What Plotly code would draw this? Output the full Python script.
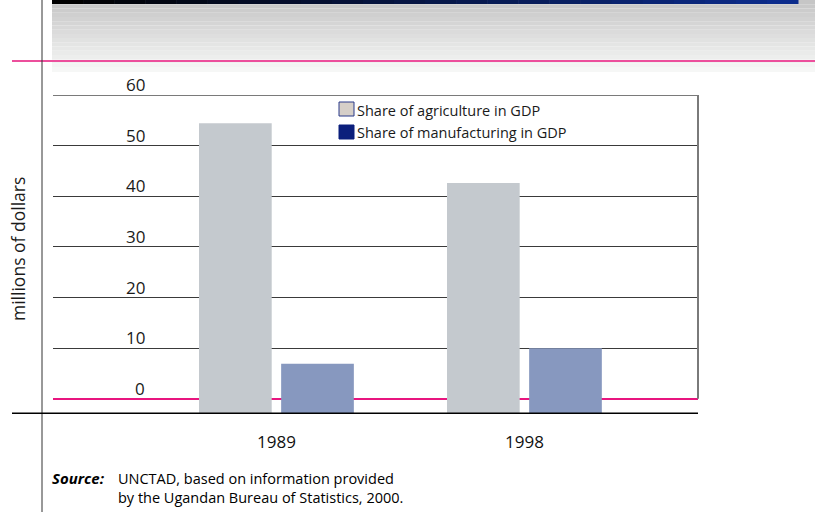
import plotly.graph_objects as go

# ---------------- data ----------------
YEARS = ["1989", "1998"]
SERIES = ["Share of agriculture in GDP", "Share of manufacturing in GDP"]
AGRICULTURE = [54.4, 42.6]
MANUFACTURING = [6.9, 10.0]
Y_TICKS = [0, 10, 20, 30, 40, 50, 60]
Y_TITLE = "millions of dollars"
SOURCE_LABEL = "Source:"
SOURCE_LINES = ["UNCTAD, based on information provided",
                "by the Ugandan Bureau of Statistics, 2000."]

# ---------------- layout constants ----------------
W, H = 815, 512
ML, MR, MT, MB = 53, 117, 95, 98
BASE = -3          # bars sit on the heavy baseline slightly below zero
FONT = "Open Sans"
PW = W - ML - MR
PH = H - MT - MB


def px2x(px):
    return (px - ML) / PW


def py2y(py):
    return (H - MB - py) / PH


def lerp(c1, c2, t):
    return "#%02x%02x%02x" % tuple(int(round(a + (b - a) * t)) for a, b in zip(c1, c2))


fig = go.Figure()

fig.add_trace(go.Bar(
    name=SERIES[0], x=YEARS, y=[v - BASE for v in AGRICULTURE], base=BASE,
    customdata=AGRICULTURE, hovertemplate="%{x}: %{customdata}<extra></extra>",
    marker=dict(color="#c4c9ce", line=dict(width=0)), showlegend=False))
fig.add_trace(go.Bar(
    name=SERIES[1], x=YEARS, y=[v - BASE for v in MANUFACTURING], base=BASE,
    customdata=MANUFACTURING, hovertemplate="%{x}: %{customdata}<extra></extra>",
    marker=dict(color="#8798bf", line=dict(width=0)), showlegend=False))

shapes = []
# header gray gradient band
n = 17
top, bot = 0, 72
for i in range(n):
    y0 = top + (bot - top) * i / n
    y1 = top + (bot - top) * (i + 1) / n
    col = lerp((198, 198, 198), (246, 247, 246), i / (n - 1))
    shapes.append(dict(type="rect", xref="paper", yref="paper", layer="below",
                       x0=px2x(52), x1=px2x(815), y0=py2y(y1), y1=py2y(y0),
                       fillcolor=col, line=dict(width=0)))
# dark top band gradient
m = 24
for i in range(m):
    x0 = 52 + (798 - 52) * i / m
    x1 = 52 + (798 - 52) * (i + 1) / m + 0.5
    col = lerp((0, 0, 0), (12, 44, 140), i / (m - 1))
    shapes.append(dict(type="rect", xref="paper", yref="paper", layer="below",
                       x0=px2x(x0), x1=px2x(x1), y0=py2y(4), y1=py2y(0),
                       fillcolor=col, line=dict(width=0)))
# pink header rule
shapes.append(dict(type="line", xref="paper", yref="paper",
                   x0=px2x(12), x1=px2x(815), y0=py2y(61), y1=py2y(61),
                   line=dict(color="#ec4f9c", width=2)))
# left vertical rule
shapes.append(dict(type="line", xref="paper", yref="paper",
                   x0=px2x(42), x1=px2x(42), y0=py2y(0), y1=py2y(512),
                   line=dict(color="#333333", width=1)))
# top border (60) and right border
shapes.append(dict(type="line", xref="paper", yref="y",
                   x0=0, x1=1, y0=Y_TICKS[-1], y1=Y_TICKS[-1],
                   line=dict(color="#7a7a7a", width=2)))
shapes.append(dict(type="line", xref="paper", yref="y",
                   x0=1, x1=1, y0=0, y1=Y_TICKS[-1],
                   line=dict(color="#7a7a7a", width=2)))
# heavy baseline
shapes.append(dict(type="line", xref="paper", yref="y",
                   x0=px2x(12), x1=1, y0=BASE, y1=BASE,
                   line=dict(color="#000000", width=3)))

# legend swatches
sw = [((339, 102, 354, 116), "#d6cfc8", "#2a3a8a"),
      ((339, 125, 354, 139), "#0b1f7c", "#0b1f7c")]
for (x0, y0, x1, y1), fc, lc in sw:
    shapes.append(dict(type="rect", xref="paper", yref="paper",
                       x0=px2x(x0), x1=px2x(x1), y0=py2y(y1), y1=py2y(y0),
                       fillcolor=fc, line=dict(color=lc, width=1)))

annotations = []
# y tick labels above gridlines
for t in Y_TICKS:
    annotations.append(dict(text=str(t), xref="paper", yref="y", x=px2x(147), y=t,
                            xanchor="right", yanchor="bottom", yshift=-3, showarrow=False,
                            font=dict(family=FONT, size=17, color="#1a1a1a")))
# legend text
for name, cy in zip(SERIES, [110, 132]):
    annotations.append(dict(text=name, xref="paper", yref="paper", x=px2x(355), y=py2y(cy),
                            xanchor="left", yanchor="middle", showarrow=False,
                            font=dict(family=FONT, size=14.5, color="#1a1a1a")))
# y title
annotations.append(dict(text=Y_TITLE, xref="paper", yref="paper", x=px2x(18), y=py2y(249),
                        xanchor="center", yanchor="middle", textangle=-90, showarrow=False,
                        font=dict(family=FONT, size=17.5, color="#1a1a1a")))
# source
annotations.append(dict(text="<b><i>" + SOURCE_LABEL + "</i></b>", xref="paper", yref="paper",
                        x=px2x(51), y=py2y(478), xanchor="left", yanchor="middle", showarrow=False,
                        borderpad=0,
                        font=dict(family=FONT, size=15, color="#000000")))
for line, cy in zip(SOURCE_LINES, [478, 497]):
    annotations.append(dict(text=line, xref="paper", yref="paper",
                            x=px2x(117), y=py2y(cy), xanchor="left", yanchor="middle",
                            showarrow=False, borderpad=0,
                            font=dict(family=FONT, size=14.5, color="#000000")))

fig.update_layout(
    width=W, height=H,
    margin=dict(l=ML, r=MR, t=MT, b=MB, pad=0),
    paper_bgcolor="white", plot_bgcolor="white",
    barmode="group", bargap=0.3375, bargroupgap=0.115,
    showlegend=False,
    font=dict(family=FONT, color="#1a1a1a"),
    xaxis=dict(type="category", range=[-0.901, 1.70], showgrid=False, showline=False,
               ticks="", ticklabelstandoff=16, zeroline=False,
               tickfont=dict(family=FONT, size=17, color="#111111")),
    yaxis=dict(range=[BASE, Y_TICKS[-1]], tickvals=Y_TICKS, showticklabels=False,
               showgrid=True, gridcolor="#3a3a3a", gridwidth=1.2,
               zeroline=True, zerolinecolor="#e8157f", zerolinewidth=1.5,
               showline=False, ticks=""),
    shapes=shapes,
    annotations=annotations,
)

fig.write_html("out.html")
